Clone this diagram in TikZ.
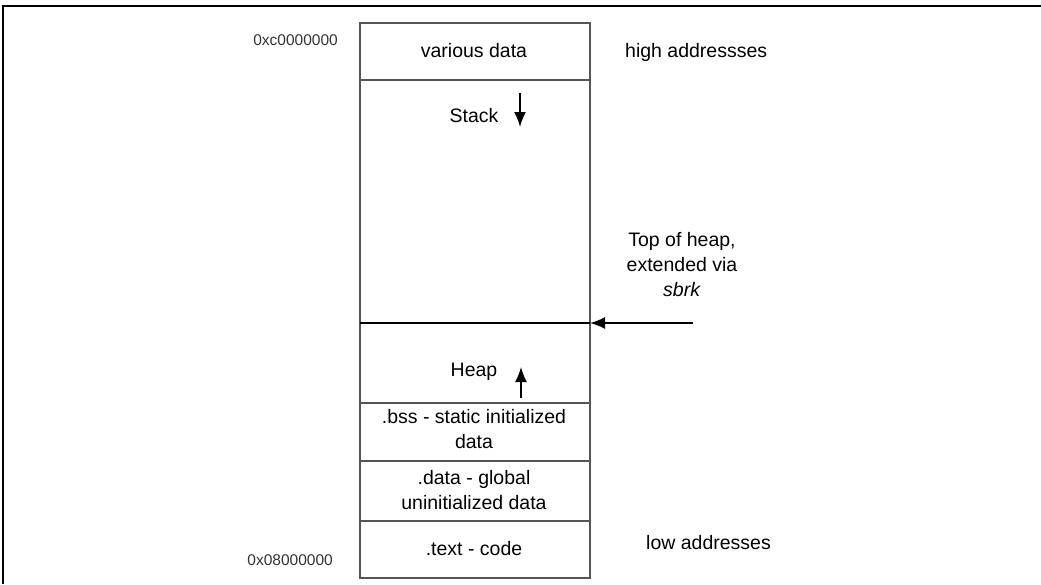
\documentclass[tikz,border=0pt]{standalone}
\usepackage{fontspec}
\setmainfont{Liberation Sans}
\usetikzlibrary{arrows.meta}
\definecolor{boxgray}{HTML}{555555}
\definecolor{hexgray}{HTML}{333333}
\begin{document}
\begin{tikzpicture}[x=1pt,y=-1pt,
  seg/.style={draw=boxgray, line width=1.3pt, minimum width=230pt, inner sep=0pt, outer sep=0pt, anchor=north west},
  lbl/.style={font=\fontsize{19.5}{25}\selectfont, inner sep=0pt, align=center, text=black},
  hex/.style={font=\fontsize{15.5}{18}\selectfont, inner sep=0pt, text=hexgray},
  arr/.style={-{Latex[length=15pt,width=12pt]}, line width=1.6pt},
  frame/.style={line width=2pt, draw=black}
]
\useasboundingbox (0,0) rectangle (1041,584);
% outer frame
\draw[frame] (3,584) -- (3,6) -- (1041,6);

% memory segments
\node[seg, minimum height=57pt]  (various) at (360,23)  {};
\node[seg, minimum height=243pt] (stack)   at (360,80)  {};
\node[seg, minimum height=80pt]  (heap)    at (360,323) {};
\node[seg, minimum height=58pt]  (bss)     at (360,403) {};
\node[seg, minimum height=60pt]  (data)    at (360,461) {};
\node[seg, minimum height=57pt]  (text)    at (360,521) {};

% top of heap line
\draw[line width=2pt, black] (stack.south west) -- (stack.south east);

% labels inside
\node[lbl, anchor=base] (tvarious) at (474,57.5) {various data};
\node[lbl, anchor=base] (tstack) at (474,122.7) {Stack};
\node[lbl, anchor=base] (theap) at (474,376.7) {Heap};
\node[lbl, anchor=north] (tbss) at (474,409) {.bss - static initialized\\data};
\node[lbl, anchor=north] (tdata) at (474,470) {.data - global\\uninitialized data};
\node[lbl, anchor=base] (ttext) at (474,555) {.text - code};

% side labels
\node[lbl, anchor=base west] (high) at (625,57) {high addressses};
\node[lbl, anchor=base west] (low) at (646,549) {low addresses};
\node[lbl, anchor=north] (top) at (682,232) {Top of heap,\\extended via\\\textit{sbrk}};
\node[hex, anchor=base east] (hexhi) at (338,45) {0xc0000000};
\node[hex, anchor=base east] (hexlo) at (333,565) {0x08000000};

% arrows
\coordinate (sa1) at (520,93);
\coordinate (sa2) at (520,127);
\draw[arr] (sa1) -- (sa2);
\coordinate (ha1) at (521,398);
\coordinate (ha2) at (521,367);
\draw[arr] (ha1) -- (ha2);
\coordinate (ptr) at (693,323);
\draw[arr] (ptr) -- (stack.south east);
\end{tikzpicture}
\end{document}
